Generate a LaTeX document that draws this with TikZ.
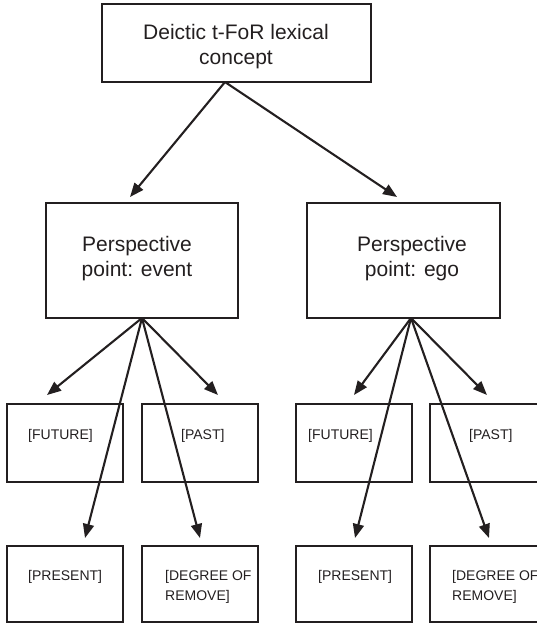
\documentclass[tikz,border=0pt]{standalone}
\usepackage{fontspec}
\setmainfont{Liberation Sans}
\usetikzlibrary{arrows.meta}
\definecolor{ink}{HTML}{231F20}
\begin{document}
\begin{tikzpicture}[x=1pt,y=-1pt,
  box/.style={draw=ink, line width=1.8pt, rectangle, inner sep=0pt, outer sep=0pt, anchor=north west},
  link/.style={draw=ink, line width=2.1pt, -{Triangle[length=14pt,width=11pt]}},
  big/.style={text=ink, font=\fontsize{21}{25}\selectfont, align=center, inner sep=0pt, anchor=base},
  small/.style={text=ink, font=\fontsize{14}{20}\selectfont, align=left, inner sep=0pt, anchor=base west}]
\useasboundingbox (0,0) rectangle (536,624);

% boxes
\node[box, minimum width=269pt, minimum height=78pt] (top) at (102,4) {};
\node[box, minimum width=192pt, minimum height=115pt] (evt) at (46,203) {};
\node[box, minimum width=193pt, minimum height=115pt] (ego) at (307,203) {};
\node[box, minimum width=116pt, minimum height=78pt] (fut1) at (7,404) {};
\node[box, minimum width=116pt, minimum height=78pt] (past1) at (142,404) {};
\node[box, minimum width=116pt, minimum height=76pt] (pres1) at (7,546) {};
\node[box, minimum width=116pt, minimum height=76pt] (deg1) at (142,546) {};
\node[box, minimum width=116pt, minimum height=78pt] (fut2) at (296,404) {};
\node[box, minimum width=116pt, minimum height=78pt] (past2) at (430,404) {};
\node[box, minimum width=116pt, minimum height=76pt] (pres2) at (296,546) {};
\node[box, minimum width=116pt, minimum height=76pt] (deg2) at (430,546) {};

% labels (multi-line labels sit on their last baseline)
\node[big] (ttop) at (236,64) {Deictic t-FoR lexical\\concept};
\node[big] (tevt) at (137,276) {Perspective\\point: event};
\node[big] (tego) at (412,276) {Perspective\\point: ego};
\node[small] (tfut1) at (28,439) {[FUTURE]};
\node[small] (tpast1) at (181,439) {[PAST]};
\node[small] (tpres1) at (28,580) {[PRESENT]};
\node[small] (tdeg1) at (165,600) {[DEGREE OF\\REMOVE]};
\node[small] (tfut2) at (308,439) {[FUTURE]};
\node[small] (tpast2) at (469,439) {[PAST]};
\node[small] (tpres2) at (318,580) {[PRESENT]};
\node[small] (tdeg2) at (452,600) {[DEGREE OF\\REMOVE]};

% arrow origins and tips
\coordinate (otop) at (225,82);
\coordinate (oevt) at (142,318);
\coordinate (oego) at (411,318);
\coordinate (aevt) at (130,197);
\coordinate (aego) at (397,197);
\coordinate (afut1) at (47,395);
\coordinate (apast1) at (218,395);
\coordinate (apres1) at (85,538);
\coordinate (adeg1) at (200,538);
\coordinate (afut2) at (354,395);
\coordinate (apast2) at (487,395);
\coordinate (apres2) at (355,538);
\coordinate (adeg2) at (489,538);

% connectors
\draw[link] (otop) -- (aevt);
\draw[link] (otop) -- (aego);
\draw[link] (oevt) -- (afut1);
\draw[link] (oevt) -- (apast1);
\draw[link] (oevt) -- (apres1);
\draw[link] (oevt) -- (adeg1);
\draw[link] (oego) -- (afut2);
\draw[link] (oego) -- (apast2);
\draw[link] (oego) -- (apres2);
\draw[link] (oego) -- (adeg2);
\end{tikzpicture}
\end{document}
